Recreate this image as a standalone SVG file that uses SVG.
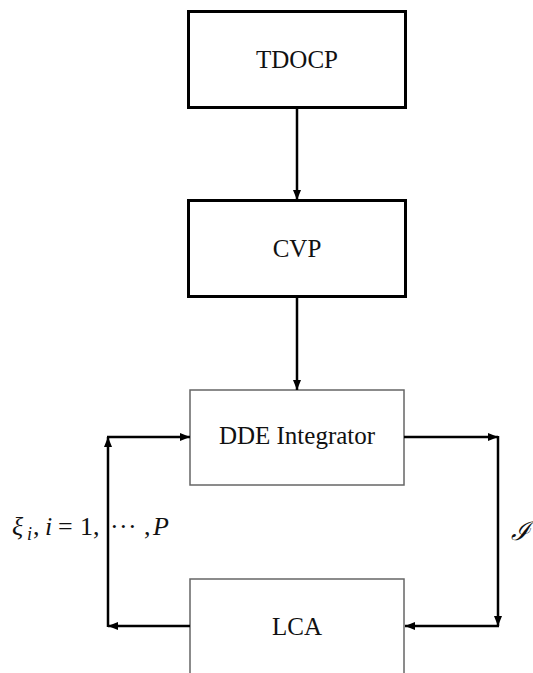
<svg xmlns="http://www.w3.org/2000/svg" width="533" height="673" viewBox="0 0 533 673">
  <style>
    .bold { fill: #fff; stroke: #000; stroke-width: 3; }
    .thin { fill: #fff; stroke: #666; stroke-width: 1.5; }
    .lbl { font-family: "Liberation Serif", "Times New Roman", serif; font-size: 25px; fill: #111; text-anchor: middle; }
    .math { font-family: "Liberation Serif", "DejaVu Serif", serif; font-size: 26px; fill: #111; }
    .it { font-style: italic; }
    .wire { fill: none; stroke: #000; stroke-width: 2.5; }
  </style>
  <defs>
    <marker id="arr" viewBox="0 0 10 8" refX="10" refY="4" markerWidth="10" markerHeight="8" markerUnits="userSpaceOnUse" orient="auto">
      <path d="M0,0 L10,4 L0,8 Z" fill="#000"/>
    </marker>
  </defs>
  <rect width="533" height="673" fill="#fff"/>

  <g id="tdocp">
    <rect class="bold" x="188.5" y="11.5" width="217" height="96"/>
    <text class="lbl" x="297" y="68">TDOCP</text>
  </g>
  <g id="cvp">
    <rect class="bold" x="188.5" y="200.5" width="217" height="96"/>
    <text class="lbl" x="297" y="257">CVP</text>
  </g>
  <g id="dde">
    <rect class="thin" x="190" y="390" width="214" height="95"/>
    <text class="lbl" x="297" y="444">DDE Integrator</text>
  </g>
  <g id="lca">
    <rect class="thin" x="190" y="579" width="214" height="110"/>
    <text class="lbl" x="297" y="635">LCA</text>
  </g>

  <g id="connectors">
    <line class="wire" x1="297" y1="108" x2="297" y2="200" marker-end="url(#arr)"/>
    <line class="wire" x1="297" y1="298" x2="297" y2="390" marker-end="url(#arr)"/>
    <line class="wire" x1="404" y1="437" x2="498" y2="437" marker-end="url(#arr)"/>
    <line class="wire" x1="498" y1="436" x2="498" y2="626" marker-end="url(#arr)"/>
    <line class="wire" x1="499" y1="626" x2="405" y2="626" marker-end="url(#arr)"/>
    <line class="wire" x1="190" y1="626" x2="108" y2="626" marker-end="url(#arr)"/>
    <line class="wire" x1="108" y1="627" x2="108" y2="437" marker-end="url(#arr)"/>
    <line class="wire" x1="107" y1="437" x2="190" y2="437" marker-end="url(#arr)"/>
  </g>

  <g id="labels">
    <text class="math" y="535"><tspan class="it" x="12">ξ</tspan><tspan class="it" x="27" y="540" font-size="18">i</tspan><tspan x="33" y="535">,</tspan><tspan class="it" x="45">i</tspan><tspan x="58">=</tspan><tspan x="80">1,</tspan><tspan x="110">·</tspan><tspan x="119">·</tspan><tspan x="128">·</tspan><tspan x="144">,</tspan><tspan class="it" x="153">P</tspan></text>
    <text class="math it" x="511" y="540" font-size="22">ℐ</text>
  </g>
</svg>
